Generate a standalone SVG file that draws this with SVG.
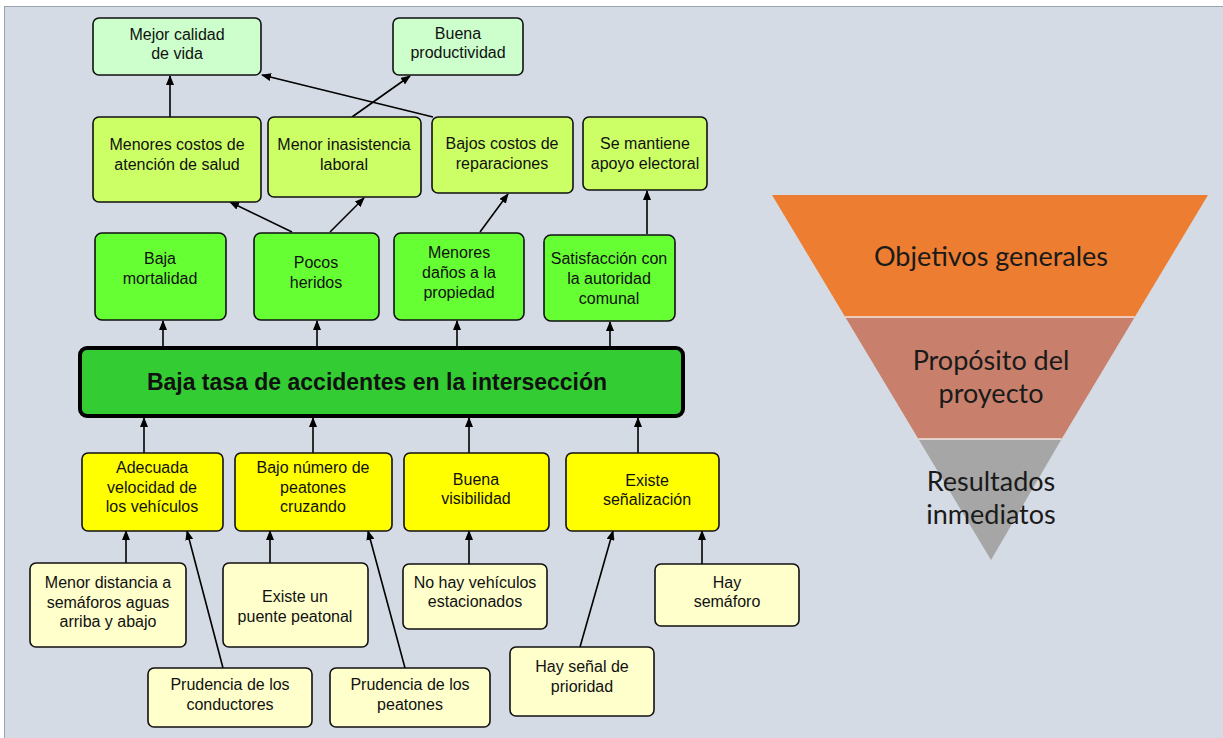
<svg xmlns="http://www.w3.org/2000/svg" width="1223" height="738" viewBox="0 0 1223 738">
<defs>
<marker id="ah" markerWidth="10" markerHeight="8" refX="9" refY="4" orient="auto" markerUnits="userSpaceOnUse">
<path d="M0,0 L10,4 L0,8 Z" fill="#000"/>
</marker>
<style>
.bx{stroke:#111;stroke-width:1.6}
.g1{fill:#ccffcc}.g2{fill:#ccff66}.g3{fill:#66ff33}.y1{fill:#ffff00}.y2{fill:#ffffcc}
.t{font-family:"Liberation Sans",Arial,sans-serif;font-size:16px;fill:#111;text-anchor:middle}
.big{font-family:"Liberation Sans",Arial,sans-serif;font-size:23px;font-weight:bold;fill:#111;text-anchor:middle}
.c{stroke:#000;stroke-width:1.6;fill:none;marker-end:url(#ah)}
.tri{font-family:Lato,"Open Sans",sans-serif;font-size:27px;fill:#1a1a1a;text-anchor:middle}
</style>
</defs>
<rect x="0" y="0" width="1223" height="738" fill="#ffffff"/>
<rect x="4.5" y="6.5" width="1220" height="734" fill="#d5dbe4" stroke="#9aa3b0" stroke-width="1"/>

<g id="connectors">
<line class="c" x1="170" y1="117" x2="170" y2="76"/>
<line class="c" x1="352" y1="117" x2="410" y2="76"/>
<line class="c" x1="433" y1="117" x2="262" y2="75"/>
<line class="c" x1="292" y1="232" x2="230" y2="202"/>
<line class="c" x1="330" y1="232" x2="364" y2="198"/>
<line class="c" x1="480" y1="232" x2="508" y2="194"/>
<line class="c" x1="647" y1="234" x2="647" y2="191"/>
<line class="c" x1="163" y1="346" x2="163" y2="321"/>
<line class="c" x1="317" y1="346" x2="317" y2="321"/>
<line class="c" x1="457" y1="346" x2="457" y2="321"/>
<line class="c" x1="610" y1="346" x2="610" y2="322"/>
<line class="c" x1="144" y1="453" x2="144" y2="418"/>
<line class="c" x1="313" y1="453" x2="313" y2="418"/>
<line class="c" x1="469" y1="453" x2="469" y2="418"/>
<line class="c" x1="638" y1="453" x2="638" y2="418"/>
<line class="c" x1="126" y1="563" x2="126" y2="531"/>
<line class="c" x1="223" y1="668" x2="187" y2="531"/>
<line class="c" x1="270" y1="563" x2="270" y2="531"/>
<line class="c" x1="405" y1="668" x2="368" y2="531"/>
<line class="c" x1="469" y1="564" x2="469" y2="531"/>
<line class="c" x1="580" y1="647" x2="613" y2="531"/>
<line class="c" x1="702" y1="564" x2="702" y2="531"/>
</g>

<g id="n-mejor-calidad"><rect class="bx g1" x="93" y="18" width="168" height="57" rx="6"/>
<text class="t" x="177" y="40">Mejor calidad</text><text class="t" x="177" y="59">de vida</text></g>
<g id="n-buena-productividad"><rect class="bx g1" x="393" y="18" width="130" height="57" rx="6"/>
<text class="t" x="458" y="39">Buena</text><text class="t" x="458" y="58">productividad</text></g>

<g id="n-menores-costos"><rect class="bx g2" x="93" y="117" width="168" height="85" rx="6"/>
<text class="t" x="177" y="150">Menores costos de</text><text class="t" x="177" y="170">atención de salud</text></g>
<g id="n-menor-inasistencia"><rect class="bx g2" x="268" y="117" width="153" height="80" rx="6"/>
<text class="t" x="344" y="150">Menor inasistencia</text><text class="t" x="344" y="170">laboral</text></g>
<g id="n-bajos-costos"><rect class="bx g2" x="432" y="117" width="141" height="76" rx="6"/>
<text class="t" x="502" y="149">Bajos costos de</text><text class="t" x="502" y="169">reparaciones</text></g>
<g id="n-se-mantiene"><rect class="bx g2" x="583" y="117" width="124" height="73" rx="6"/>
<text class="t" x="645" y="149">Se mantiene</text><text class="t" x="645" y="169">apoyo electoral</text></g>

<g id="n-baja-mortalidad"><rect class="bx g3" x="95" y="233" width="131" height="87" rx="7"/>
<text class="t" x="160" y="264">Baja</text><text class="t" x="160" y="284">mortalidad</text></g>
<g id="n-pocos-heridos"><rect class="bx g3" x="254" y="233" width="125" height="87" rx="7"/>
<text class="t" x="316" y="268">Pocos</text><text class="t" x="316" y="288">heridos</text></g>
<g id="n-menores-danos"><rect class="bx g3" x="394" y="233" width="130" height="87" rx="7"/>
<text class="t" x="459" y="258">Menores</text><text class="t" x="459" y="278">daños a la</text><text class="t" x="459" y="298">propiedad</text></g>
<g id="n-satisfaccion"><rect class="bx g3" x="544" y="235" width="131" height="86" rx="7"/>
<text class="t" x="609" y="264">Satisfacción con</text><text class="t" x="609" y="284">la autoridad</text><text class="t" x="609" y="304">comunal</text></g>

<g id="n-baja-tasa"><rect x="80" y="348" width="603" height="68" rx="7" fill="#33cc33" stroke="#000" stroke-width="4"/>
<text class="big" x="377" y="390">Baja tasa de accidentes en la intersección</text></g>

<g id="n-adecuada"><rect class="bx y1" x="82" y="453" width="141" height="78" rx="6"/>
<text class="t" x="152" y="473">Adecuada</text><text class="t" x="152" y="493">velocidad de</text><text class="t" x="152" y="512">los vehículos</text></g>
<g id="n-bajo-numero"><rect class="bx y1" x="235" y="453" width="157" height="78" rx="6"/>
<text class="t" x="313" y="473">Bajo número de</text><text class="t" x="313" y="493">peatones</text><text class="t" x="313" y="512">cruzando</text></g>
<g id="n-buena-visibilidad"><rect class="bx y1" x="404" y="453" width="145" height="78" rx="6"/>
<text class="t" x="476" y="485">Buena</text><text class="t" x="476" y="504">visibilidad</text></g>
<g id="n-existe-senalizacion"><rect class="bx y1" x="566" y="453" width="153" height="78" rx="6"/>
<text class="t" x="647" y="486">Existe</text><text class="t" x="647" y="505">señalización</text></g>

<g id="n-menor-distancia"><rect class="bx y2" x="30" y="563" width="156" height="84" rx="6"/>
<text class="t" x="108" y="588">Menor distancia a</text><text class="t" x="108" y="608">semáforos aguas</text><text class="t" x="108" y="627">arriba y abajo</text></g>
<g id="n-puente"><rect class="bx y2" x="223" y="563" width="145" height="84" rx="6"/>
<text class="t" x="295" y="602">Existe un</text><text class="t" x="295" y="622">puente peatonal</text></g>
<g id="n-no-hay-vehiculos"><rect class="bx y2" x="403" y="564" width="144" height="65" rx="6"/>
<text class="t" x="475" y="588">No hay vehículos</text><text class="t" x="475" y="607">estacionados</text></g>
<g id="n-hay-semaforo"><rect class="bx y2" x="655" y="564" width="144" height="62" rx="6"/>
<text class="t" x="727" y="588">Hay</text><text class="t" x="727" y="607">semáforo</text></g>
<g id="n-prudencia-conductores"><rect class="bx y2" x="148" y="668" width="164" height="59" rx="6"/>
<text class="t" x="230" y="690">Prudencia de los</text><text class="t" x="230" y="710">conductores</text></g>
<g id="n-prudencia-peatones"><rect class="bx y2" x="330" y="668" width="160" height="59" rx="6"/>
<text class="t" x="410" y="690">Prudencia de los</text><text class="t" x="410" y="710">peatones</text></g>
<g id="n-hay-senal"><rect class="bx y2" x="510" y="647" width="144" height="69" rx="6"/>
<text class="t" x="582" y="672">Hay señal de</text><text class="t" x="582" y="692">prioridad</text></g>

<g id="piramide">
<polygon points="772,195 1208,195 1134.8,317 845.2,317" fill="#ed7d31"/>
<polygon points="845.2,317 1134.8,317 1061.6,439 918.4,439" fill="#c8806c"/>
<polygon points="918.4,439 1061.6,439 991,560" fill="#a6a6a6"/>
<line x1="845.2" y1="317" x2="1134.8" y2="317" stroke="#f2e6e0" stroke-width="1.5"/>
<line x1="918.4" y1="439" x2="1061.6" y2="439" stroke="#f2e6e0" stroke-width="1.5"/>
<text class="tri" x="991" y="266">Objetivos generales</text>
<text class="tri" x="991" y="370">Propósito del</text>
<text class="tri" x="991" y="403">proyecto</text>
<text class="tri" x="991" y="491">Resultados</text>
<text class="tri" x="991" y="524">inmediatos</text>
</g>
</svg>
